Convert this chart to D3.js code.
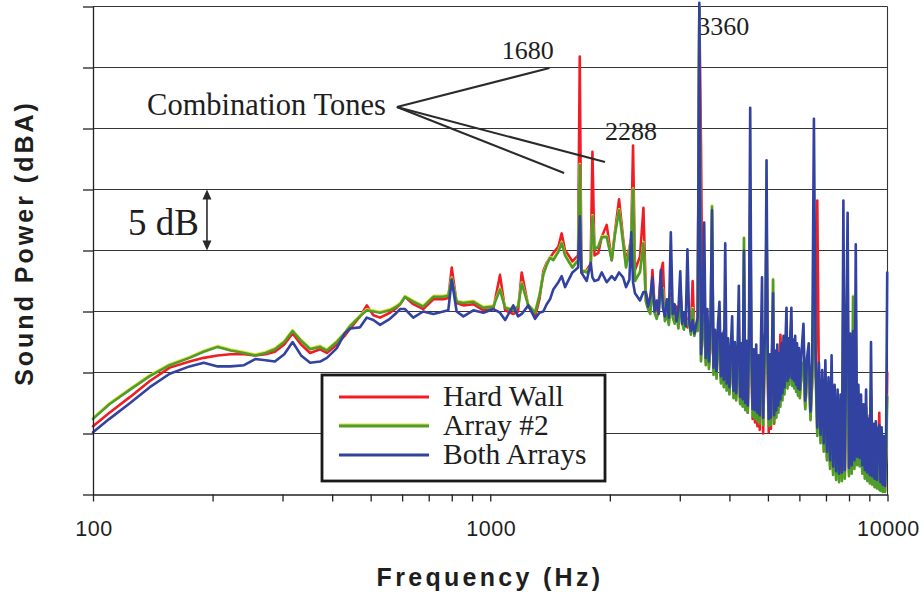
<!DOCTYPE html>
<html>
<head>
<meta charset="utf-8">
<script src="https://cdn.jsdelivr.net/npm/d3@7"></script>
<style>
  html, body { margin: 0; padding: 0; background: #fff; }
  svg { display: block; }
</style>
</head>
<body>
<svg id="chart" width="924" height="594"></svg>
<script>
// ---- Axes -----------------------------------------------------------------
const freqDomain = [100, 10000];
const levelDomain = [50, 90];          // dBA, one grid step = 5 dB
const levelTicks = [50, 55, 60, 65, 70, 75, 80, 85, 90];
const freqTickLabels = [100, 1000, 10000];

const seriesNames = ["Hard Wall", "Array #2", "Both Arrays"];
const seriesColors = ["#f21d24", "#4f9c2b", "#3142a0"];

// ---- Low band (irregular analysis points, Hz) -----------------------------
const lowFreqHz = [100,110,124,139,156,175,190,206,222,240,256,272,287,303,318,334,352,373,388,411,
  430,444,470,489,508,528,559,581,593,610,640,678,719,762,784,800,823,856,907,961,
  1018,1058,1090,1143,1175,1200,1247,1297,1330,1360,1387,1414,1441,1484,1513,1543,1575,1610,1664,1680,
  1696,1749,1790,1808,1830,1871,1908,1964,2022,2060,2110,2160,2197,2240,2264,2288,2314,2382,2430];

const hardWallLow = [55.6,56.7,58.0,59.3,60.4,60.9,61.2,61.4,61.5,61.5,61.4,61.5,61.7,62.3,63.2,62.3,61.6,61.9,61.6,62.3,
  63.0,63.6,64.6,65.5,64.7,64.5,64.9,65.3,65.6,66.2,65.6,65.2,66.0,66.0,66.1,68.6,65.7,65.5,65.6,65.1,
  65.2,68.0,65.1,64.8,65.0,68.2,65.4,64.6,66.0,68.3,69.0,69.4,69.8,70.3,71.4,70.0,69.6,69.1,69.6,85.9,
  68.2,68.4,68.9,78.1,69.6,69.8,71.1,72.1,69.2,71.5,74.2,71.0,69.2,70.2,71.0,78.6,68.4,69.5,73.5];

const array2Low = [56.2,57.4,58.6,59.7,60.6,61.2,61.7,62.1,61.8,61.6,61.4,61.6,61.9,62.5,63.4,62.6,61.9,62.1,61.8,62.5,
  63.2,63.8,64.6,65.1,65.0,64.9,65.1,65.4,65.6,66.2,65.8,65.4,66.2,66.2,66.3,67.7,65.8,65.7,65.8,65.3,
  65.4,66.8,65.3,65.1,65.4,67.3,65.5,64.9,66.3,68.0,68.8,69.4,69.2,69.9,70.6,69.6,69.1,68.6,69.2,77.0,
  68.4,68.2,68.6,72.8,70.1,70.3,71.1,71.1,69.2,71.3,73.3,70.6,68.6,70.0,70.8,75.0,67.5,68.2,70.6];

const bothArraysLow = [55.1,56.2,57.5,58.8,59.9,60.5,60.8,60.5,60.5,60.6,61.1,61.0,60.9,61.5,62.5,61.4,60.8,60.9,61.2,62.0,
  63.2,63.6,63.7,64.5,64.3,63.9,64.4,64.9,65.2,65.2,64.5,65.0,64.8,65.0,65.1,67.6,65.0,64.6,65.1,64.9,
  65.2,64.9,64.3,65.5,64.6,64.8,65.5,64.4,64.9,65.0,65.6,66.0,66.8,67.4,67.9,67.0,67.6,68.2,68.6,72.8,
  68.2,67.5,69.0,67.8,67.5,67.6,68.2,67.4,67.9,67.6,68.2,67.8,67.0,67.6,71.5,67.4,66.5,65.9,66.6];

// ---- Mid band: FFT lines every 32 Hz from 2464 Hz ------------------------
const midStartHz = 2464, midBinHz = 32;

const hardWallMid = [66.5,65.9,65.3,68.4,65.5,64.9,65.8,68.2,69.0,64.7,
  65.2,64.3,66.5,65.0,64.4,65.4,64.0,67.0,64.6,63.9,
  64.8,63.7,64.5,63.5,67.5,63.3,64.0,63.6,89.8,78.8,
  62.8,64.0,60.9,63.2,60.6,62.0,68.0,60.1,61.5,59.8,
  62.0,62.5,59.4,61.2,63.4,62.0,58.8,60.8,58.5,60.0,
  61.5,58.2,60.5,58.0,59.8,62.0,57.6,60.4,57.3,66.0,
  57.0,60.6,56.7,61.0,70.0,60.5,56.2,59.9,55.9,60.3,
  55.6,59.4,55.3,60.0,61.0,55.0,59.7,61.0,72.0,60.2,
  55.1,59.5,55.4,60.1,61.0,55.8,59.8,56.4,60.3,57.0,
  59.6,63.1,60.4,58.0,61.0,58.5,60.5,64.0,59.0,60.8,
  59.3,61.2,64.2,59.2,60.7,59.0,61.0,58.7,60.4,58.4,
  60.0];

const array2Mid = [65.8,65.2,64.8,67.2,64.9,64.4,65.1,67.0,66.8,64.2,
  64.8,63.9,66.0,64.5,64.0,64.9,63.6,66.3,64.1,63.5,
  64.3,63.9,64.0,63.1,65.2,63.0,63.6,63.4,89.9,60.9,
  63.3,64.5,60.6,63.7,60.3,62.4,73.6,59.8,62.0,59.5,
  62.5,63.0,59.1,61.7,58.8,63.5,58.5,61.3,58.2,60.5,
  62.0,57.9,61.0,57.7,60.3,63.0,57.4,60.9,57.2,71.0,
  56.9,61.1,56.7,61.5,75.0,61.0,56.4,60.4,56.2,60.8,
  56.0,59.9,55.8,60.5,62.4,55.7,60.2,62.0,73.0,60.7,
  55.6,60.0,55.7,60.6,67.6,55.9,60.3,56.3,60.8,56.7,
  60.1,57.2,60.9,57.7,61.5,58.2,61.0,63.0,58.7,61.3,
  59.0,61.7,63.5,58.9,61.2,58.7,61.5,58.4,60.9,58.1,
  60.5];

const bothArraysMid = [66.6,65.4,66.2,67.8,65.0,65.9,64.8,68.4,65.3,64.6,
  66.0,64.5,71.5,64.8,65.6,64.2,65.1,68.3,64.0,64.9,
  63.8,70.1,64.2,63.4,64.3,63.2,63.8,64.5,90.3,61.5,
  64.8,72.3,61.2,65.2,60.9,63.9,73.3,60.4,63.5,60.1,
  64.0,65.8,59.7,63.2,59.4,70.6,59.1,62.8,58.8,62.0,
  64.6,58.5,62.5,58.3,61.8,67.1,58.0,62.4,57.8,70.0,
  57.5,62.6,57.3,63.0,81.7,62.5,57.0,61.9,56.9,62.3,
  56.7,61.4,56.5,62.0,67.8,56.3,61.7,63.5,77.4,62.2,
  56.2,61.5,56.3,62.1,66.5,56.5,61.8,56.9,62.3,57.3,
  61.6,57.8,62.4,58.3,63.0,58.8,62.5,65.3,59.3,62.8,
  59.6,63.2,65.3,59.5,62.7,59.3,63.0,59.0,62.4,58.7,
  62.0];

// ---- High band: FFT lines every 64 Hz from 6016 Hz -----------------------
const highStartHz = 6016, highBinHz = 64;

const hardWallHigh = [58.2,60.0,60.5,57.3,59.4,60.0,56.4,59.2,64.0,59.6,
  74.1,59.0,54.5,58.4,53.8,59.0,53.1,57.8,52.4,59.0,
  51.9,57.2,56.2,56.8,51.3,56.4,51.4,62.0,51.6,61.0,
  64.0,51.8,61.0,52.0,61.0,52.4,62.0,52.7,57.2,52.6,
  56.4,52.0,55.6,51.6,56.5,56.5,54.6,51.2,58.0,51.1,
  54.0,50.9,54.2,50.8,53.6,56.7,50.6,53.8,50.4,53.2,
  50.3,53.4,60.0];

const array2High = [57.9,60.3,60.8,57.0,59.7,60.5,56.1,59.5,70.0,60.0,
  54.8,59.3,54.2,58.7,53.5,59.5,52.8,58.1,52.1,59.9,
  51.6,57.5,51.2,57.1,51.0,56.7,51.1,68.0,51.3,61.5,
  66.0,51.5,61.7,51.7,66.2,52.1,64.5,52.4,57.5,52.3,
  56.7,51.7,55.9,51.3,57.1,51.1,54.7,50.9,58.5,50.8,
  54.3,50.6,54.5,50.5,53.8,50.4,50.3,54.0,50.2,53.3,
  50.2,53.5,58.0];

const bothArraysHigh = [58.6,61.8,64.0,57.7,61.2,62.4,56.8,61.0,80.8,61.5,
  55.5,60.8,54.9,60.2,54.2,61.0,53.5,59.6,52.8,61.4,
  52.3,59.0,51.9,58.6,51.7,58.2,51.8,74.1,52.0,63.0,
  73.1,52.2,63.2,52.4,63.4,52.8,70.5,53.1,59.0,53.0,
  58.2,52.4,57.4,52.0,58.6,51.8,56.2,51.6,62.5,51.5,
  55.8,51.3,56.0,51.2,55.3,55.7,51.0,55.5,50.8,54.8,
  50.7,55.0,68.2];

// ---- Annotations (positions in Hz / dB) ----------------------------------
const comboLabel = { text: "Combination Tones", f: 136.8, db: 81.1 };
const comboHub = { f: 582, db: 81.76 };
const comboTargets = [
  { f: 1410, db: 84.96 },
  { f: 1945, db: 77.25 },
  { f: 1534, db: 76.35 }
];
const toneLabels = [
  { text: "1680", f: 1069, db: 85.67 },
  { text: "2288", f: 1945, db: 79.06 },
  { text: "3360", f: 3320, db: 87.66 }
];
const scaleBar = { text: "5 dB", f: 193.6, from: 70, to: 75, textF: 122.5, textDb: 71.27 };

// ---- Scales ----------------------------------------------------------------
const svg = d3.select("#chart");
const x = d3.scaleLog().domain(freqDomain).range([93, 887.5]);
const y = d3.scaleLinear().domain(levelDomain).range([494.5, 6.5]);

const serif = "'Liberation Serif','Times New Roman',serif";
const sans = "'Liberation Sans',Arial,sans-serif";
const ink = "#1e1e1e";

// ---- Series assembly -------------------------------------------------------
const midFreqHz = d3.range(hardWallMid.length).map(i => midStartHz + i * midBinHz);
const highFreqHz = d3.range(hardWallHigh.length).map(i => highStartHz + i * highBinHz);
const freqHz = lowFreqHz.concat(midFreqHz, highFreqHz);

const seriesLevels = [
  hardWallLow.concat(hardWallMid, hardWallHigh),
  array2Low.concat(array2Mid, array2High),
  bothArraysLow.concat(bothArraysMid, bothArraysHigh)
];
const series = seriesNames.map((name, i) => ({
  name,
  color: seriesColors[i],
  points: freqHz.map((f, j) => ({ f, v: seriesLevels[i][j] }))
}));

// ---- Grid ------------------------------------------------------------------
svg.append("g")
  .selectAll("line")
  .data(levelTicks.filter(v => v > levelDomain[0]))
  .join("line")
  .attr("x1", x(freqDomain[0]))
  .attr("x2", x(freqDomain[1]))
  .attr("y1", d => y(d))
  .attr("y2", d => y(d))
  .attr("stroke", "#363636")
  .attr("stroke-width", 1.1);

// right border of the plot area
svg.append("line")
  .attr("x1", x(freqDomain[1])).attr("x2", x(freqDomain[1]))
  .attr("y1", y(levelDomain[0])).attr("y2", y(levelDomain[1]))
  .attr("stroke", "#363636").attr("stroke-width", 1.1);

// ---- Text annotations under the data ------------------------------------
svg.append("g")
  .selectAll("text")
  .data(toneLabels)
  .join("text")
  .attr("x", d => x(d.f))
  .attr("y", d => y(d.db))
  .attr("font-family", serif)
  .attr("font-size", 26)
  .attr("fill", ink)
  .text(d => d.text);

svg.append("text")
  .attr("x", x(comboLabel.f))
  .attr("y", y(comboLabel.db))
  .attr("font-family", serif)
  .attr("font-size", 30.5)
  .attr("fill", ink)
  .text(comboLabel.text);

svg.append("text")
  .attr("x", x(scaleBar.textF))
  .attr("y", y(scaleBar.textDb))
  .attr("font-family", serif)
  .attr("font-size", 37)
  .attr("fill", ink)
  .text(scaleBar.text);

// ---- Spectra ---------------------------------------------------------------
const line = d3.line()
  .x(d => x(d.f))
  .y(d => y(d.v))
  .curve(d3.curveLinear);

const plot = svg.append("g").attr("fill", "none")
  .attr("stroke-linejoin", "round").attr("stroke-linecap", "round");

series.forEach((s, i) => {
  if (i === 1) {
    // yellow fringe of the green trace
    plot.append("path")
      .datum(s.points)
      .attr("d", line)
      .attr("transform", "translate(0,-1)")
      .attr("stroke", "#dfe23a")
      .attr("stroke-width", 2.6);
  }
  plot.append("path")
    .datum(s.points)
    .attr("d", line)
    .attr("stroke", s.color)
    .attr("stroke-width", 2.6);
});

// ---- Axes ------------------------------------------------------------------
const yAxis = d3.axisLeft(y)
  .tickValues(levelTicks)
  .tickFormat("")
  .tickSize(10)
  .tickSizeOuter(0);
const gy = svg.append("g").attr("transform", `translate(${x(freqDomain[0])},0)`).call(yAxis);
gy.selectAll("path, line").attr("stroke", "#222").attr("stroke-width", 1.3);

const xAxis = d3.axisBottom(x)
  .tickValues(x.ticks())
  .tickFormat("")
  .tickSize(7)
  .tickSizeOuter(0);
const gx = svg.append("g").attr("transform", `translate(0,${y(levelDomain[0])})`).call(xAxis);
gx.selectAll("path, line").attr("stroke", "#222").attr("stroke-width", 1.3);

svg.append("g")
  .selectAll("text")
  .data(freqTickLabels)
  .join("text")
  .attr("x", d => x(d) + 1)
  .attr("y", 536)
  .attr("text-anchor", "middle")
  .attr("font-family", sans)
  .attr("font-size", 21.5)
  .attr("letter-spacing", 0.6)
  .attr("fill", ink)
  .text(d => d);

// axis titles
svg.append("text")
  .attr("x", 490)
  .attr("y", 586)
  .attr("text-anchor", "middle")
  .attr("font-family", sans)
  .attr("font-weight", "bold")
  .attr("font-size", 25)
  .attr("letter-spacing", 3.3)
  .attr("fill", ink)
  .text("Frequency (Hz)");

svg.append("text")
  .attr("transform", "translate(33,243) rotate(-90)")
  .attr("text-anchor", "middle")
  .attr("font-family", sans)
  .attr("font-weight", "bold")
  .attr("font-size", 25)
  .attr("letter-spacing", 3.0)
  .attr("fill", ink)
  .text("Sound Power (dBA)");

// ---- Leader lines and 5 dB scale bar -------------------------------------
svg.append("g")
  .selectAll("line")
  .data(comboTargets)
  .join("line")
  .attr("x1", x(comboHub.f))
  .attr("y1", y(comboHub.db))
  .attr("x2", d => x(d.f))
  .attr("y2", d => y(d.db))
  .attr("stroke", "#2a2a2a")
  .attr("stroke-width", 2);

const bx = x(scaleBar.f), by0 = y(scaleBar.to), by1 = y(scaleBar.from);
svg.append("line")
  .attr("x1", bx).attr("x2", bx)
  .attr("y1", by0 + 6).attr("y2", by1 - 6)
  .attr("stroke", "#2a2a2a").attr("stroke-width", 1.6);
svg.append("path")
  .attr("d", `M${bx},${by0} L${bx - 4.5},${by0 + 10} L${bx + 4.5},${by0 + 10} Z
              M${bx},${by1} L${bx - 4.5},${by1 - 10} L${bx + 4.5},${by1 - 10} Z`)
  .attr("fill", "#2a2a2a");

// ---- Legend ----------------------------------------------------------------
const legend = svg.append("g").attr("transform", "translate(322,375)");
legend.append("rect")
  .attr("width", 283).attr("height", 106)
  .attr("fill", "#fff")
  .attr("stroke", "#1a1a1a")
  .attr("stroke-width", 2.8);

const entries = legend.selectAll("g.entry")
  .data(series)
  .join("g")
  .attr("class", "entry")
  .attr("transform", (d, i) => `translate(0,${31 + i * 29})`);

entries.filter((d, i) => i === 1)
  .append("line")
  .attr("x1", 17).attr("x2", 107)
  .attr("y1", -10).attr("y2", -10)
  .attr("stroke", "#dfe23a").attr("stroke-width", 3);
entries.append("line")
  .attr("x1", 17).attr("x2", 107)
  .attr("y1", -9).attr("y2", -9)
  .attr("stroke", d => d.color)
  .attr("stroke-width", 3);
entries.append("text")
  .attr("x", 121)
  .attr("y", 0)
  .attr("font-family", serif)
  .attr("font-size", 29.5)
  .attr("fill", ink)
  .text(d => d.name);
</script>
</body>
</html>
